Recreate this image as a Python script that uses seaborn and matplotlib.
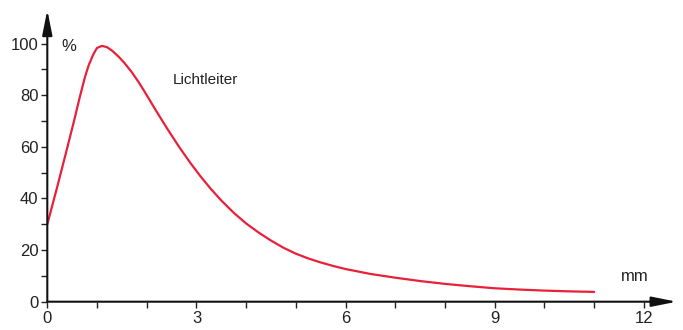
import matplotlib
matplotlib.use("Agg")
import matplotlib.pyplot as plt
import seaborn as sns
import pandas as pd

# values
dist_mm = [0, 0.2, 0.4, 0.55, 0.65, 0.75, 0.83, 0.93, 1.0, 1.1, 1.2, 1.3, 1.43,
           1.55, 1.7, 1.85, 2.0, 2.2, 2.41, 2.65, 2.88, 3.08, 3.28, 3.5, 3.75,
           4.0, 4.25, 4.49, 4.75, 5.0, 5.25, 5.5, 5.75, 6.0, 6.5, 7.0, 7.5, 8.0,
           8.5, 9.0, 9.5, 10.0, 10.5, 11.0]
signal_pct = [30, 44.5, 59.5, 71, 79, 86.5, 91.5, 96, 98.3, 99.1, 98.6, 97.3, 95,
              92.5, 88.9, 84.7, 80, 73.6, 67.1, 60, 53.7, 48.6, 43.9, 39.2, 34.45,
              30.3, 26.8, 23.8, 20.9, 18.6, 16.75, 15.2, 13.85, 12.65, 10.75, 9.3,
              8, 6.9, 6, 5.2, 4.7, 4.3, 4, 3.8]

x_major = [0, 3, 6, 9, 12]
x_minor = [1, 2, 4, 5, 7, 8, 10, 11]
y_major = [0, 20, 40, 60, 80, 100]
y_minor = [10, 30, 50, 70, 90]

df = pd.DataFrame({"mm": dist_mm, "pct": signal_pct})

sns.set_style("ticks")
plt.rcParams["font.family"] = ["Liberation Sans", "DejaVu Sans"]

fig = plt.figure(figsize=(6.83, 3.30), dpi=100)
ax = fig.add_axes([47.3 / 683, 1 - 301.7 / 330, (676.7 - 47.3) / 683, (301.7 - 10) / 330])

sns.lineplot(data=df, x="mm", y="pct", ax=ax, color="#e8203a", lw=1.6,
             sort=False, estimator=None)

ax.set_xlim(0, 12.66)
ax.set_ylim(0, 113)
for s in ax.spines.values():
    s.set_visible(False)

ax.set_xticks(x_major)
ax.set_xticks(x_minor, minor=True)
ax.set_yticks(y_major)
ax.set_yticks(y_minor, minor=True)
ax.tick_params(which="both", direction="out", length=4.5, width=1.0,
               color="#222222", labelsize=12, labelcolor="#222222", pad=2)
ax.set_xlabel("")
ax.set_ylabel("")

# axis lines with arrow heads
arrow = dict(arrowstyle="-|>,head_length=1.5,head_width=0.3", color="#111111",
             lw=1.5, shrinkA=0, shrinkB=0)
ax.annotate("", xy=(1, 0), xytext=(0, 0), xycoords="axes fraction",
            arrowprops=arrow, annotation_clip=False)
ax.annotate("", xy=(0, 1), xytext=(0, 0), xycoords="axes fraction",
            arrowprops=arrow, annotation_clip=False)

ax.text(0.44, 99, "%", fontsize=12, color="#222222", ha="center", va="center")
ax.text(11.82, 9.7, "mm", fontsize=12, color="#222222", ha="center", va="center")
ax.text(3.18, 85.7, "Lichtleiter", fontsize=11, color="#222222",
        ha="center", va="center")

plt.savefig("out.png", dpi=100)
